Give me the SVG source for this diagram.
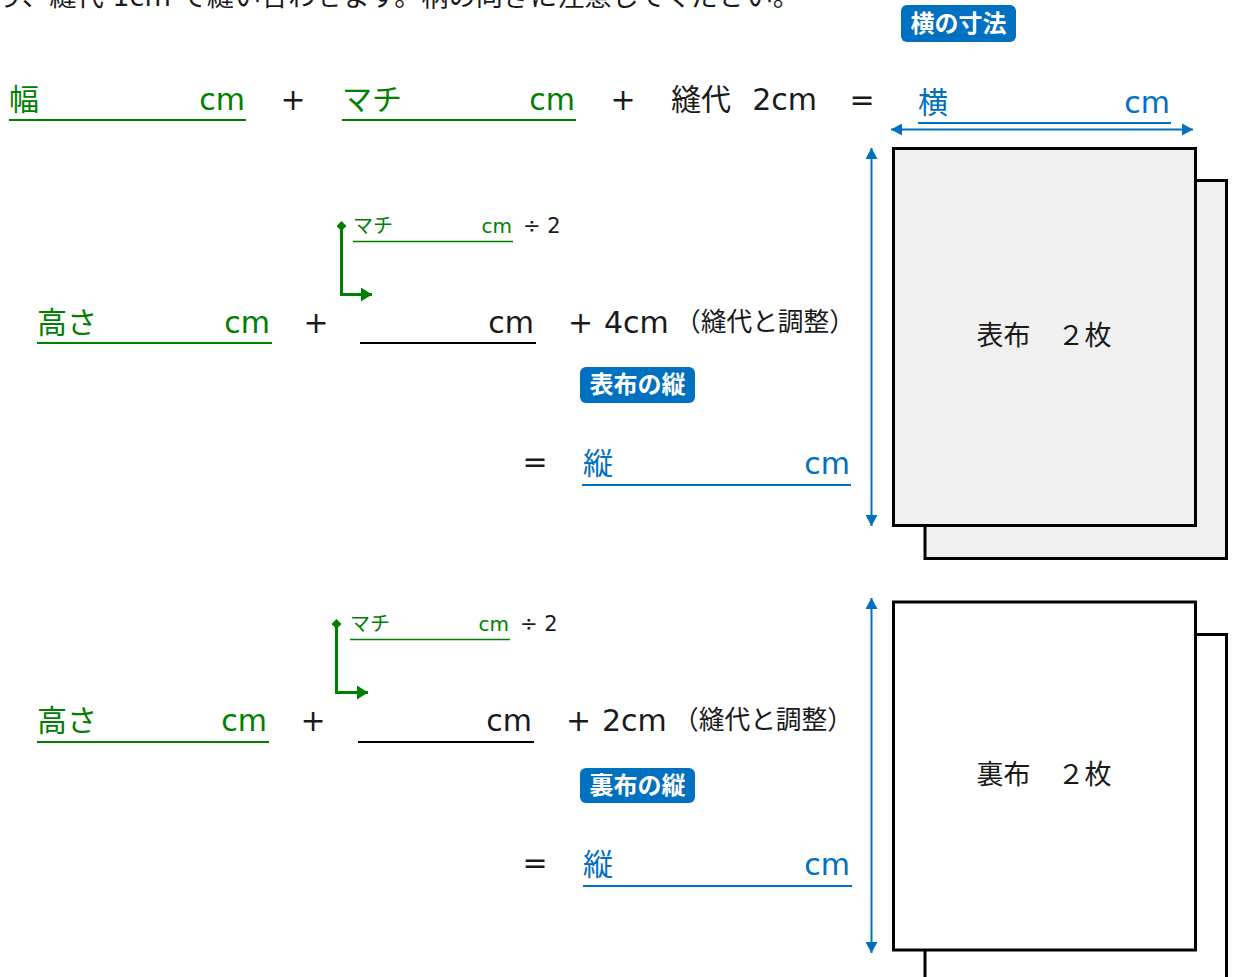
<svg xmlns="http://www.w3.org/2000/svg" width="1240" height="977" viewBox="0 0 1240 977">
<style>
text{font-family:"DejaVu Sans","Noto Sans CJK JP",sans-serif}
.g{fill:#008000}
.b{fill:#0070C0}
.k{fill:#1a1a1a}
.big{font-size:30px}
.sm{font-size:20px}
.ul-g{stroke:#008000;stroke-width:2}
.ul-gs{stroke:#008000;stroke-width:1.3}
.ul-b{stroke:#0070C0;stroke-width:2}
.ul-k{stroke:#000;stroke-width:2}
.badge{fill:#0070C0}
.bt{fill:#fff;font-size:24px;font-weight:bold;font-family:"Noto Sans CJK JP",sans-serif}
.box{stroke:#000;stroke-width:3}
.dim{stroke:#0070C0;stroke-width:2;fill:none}
.conn{stroke:#008000;stroke-width:3;fill:none}
</style>
<defs>
<marker id="ab" markerWidth="11" markerHeight="12" refX="11" refY="6" orient="auto-start-reverse" markerUnits="userSpaceOnUse"><path d="M0,0 L11,6 L0,12 Z" fill="#0070C0"/></marker>
<marker id="ag" markerWidth="11" markerHeight="14" refX="11" refY="7" orient="auto" markerUnits="userSpaceOnUse"><path d="M0,0 L11,7 L0,14 Z" fill="#008000"/></marker>
<marker id="dg" markerWidth="10" markerHeight="10" refX="5" refY="5" orient="auto" markerUnits="userSpaceOnUse"><path d="M5,0 L10,5 L5,10 L0,5 Z" fill="#008000"/></marker>
</defs>

<text x="-4" y="6" font-size="26" textLength="804" lengthAdjust="spacingAndGlyphs" class="k">り、縫代 1cm で縫い合わせます。柄の向きに注意してください。</text>

<g id="row1">
<text x="9" y="110" class="g big">幅</text>
<text x="245" y="110" class="g big" text-anchor="end">cm</text>
<line x1="9" y1="120" x2="246" y2="120" class="ul-g"/>
<text x="293" y="110" class="k big" text-anchor="middle">+</text>
<text x="342" y="110" class="g big">マチ</text>
<text x="575" y="110" class="g big" text-anchor="end">cm</text>
<line x1="342" y1="120" x2="576" y2="120" class="ul-g"/>
<text x="623" y="110" class="k big" text-anchor="middle">+</text>
<text x="671" y="110" class="k big">縫代</text>
<text x="817" y="110" class="k big" text-anchor="end">2cm</text>
<text x="862" y="110" class="k big" text-anchor="middle">=</text>
<text x="918" y="113" class="b big">横</text>
<text x="1170" y="113" class="b big" text-anchor="end">cm</text>
<line x1="918" y1="123" x2="1171" y2="123" class="ul-b"/>
</g>

<g id="badge-yoko">
<rect x="901" y="5" width="115" height="37" rx="6" class="badge"/>
<text x="958.5" y="32" class="bt" text-anchor="middle">横の寸法</text>
</g>

<g id="row2">
<text x="37" y="333" class="g big">高さ</text>
<text x="270" y="333" class="g big" text-anchor="end">cm</text>
<line x1="37" y1="343" x2="272" y2="343" class="ul-g"/>
<text x="316" y="333" class="k big" text-anchor="middle">+</text>
<text x="534" y="333" class="k big" text-anchor="end">cm</text>
<line x1="360" y1="343" x2="536" y2="343" class="ul-k"/>
<text x="568" y="333" class="k big">+</text>
<text x="604" y="333" class="k big">4cm</text>
<text x="675" y="331" font-size="26" textLength="180" lengthAdjust="spacingAndGlyphs" class="k">（縫代と調整）</text>
<text x="353" y="233" class="g sm">マチ</text>
<text x="512" y="233" class="g sm" text-anchor="end">cm</text>
<line x1="353" y1="241.5" x2="513" y2="241.5" class="ul-gs"/>
<text x="523" y="233" font-size="21" class="k">÷ 2</text>
<text x="535" y="472" class="k big" text-anchor="middle">=</text>
<text x="583" y="474" class="b big">縦</text>
<text x="850" y="474" class="b big" text-anchor="end">cm</text>
<line x1="582" y1="485" x2="851" y2="485" class="ul-b"/>
</g>

<g id="badge-omote">
<rect x="580" y="367" width="115" height="36" rx="6" class="badge"/>
<text x="637.5" y="393" class="bt" text-anchor="middle">表布の縦</text>
</g>

<g id="row3">
<text x="37" y="731" class="g big">高さ</text>
<text x="267" y="731" class="g big" text-anchor="end">cm</text>
<line x1="37" y1="742" x2="269" y2="742" class="ul-g"/>
<text x="313" y="731" class="k big" text-anchor="middle">+</text>
<text x="532" y="731" class="k big" text-anchor="end">cm</text>
<line x1="358" y1="742" x2="534" y2="742" class="ul-k"/>
<text x="566" y="731" class="k big">+</text>
<text x="602" y="731" class="k big">2cm</text>
<text x="673" y="729" font-size="26" textLength="180" lengthAdjust="spacingAndGlyphs" class="k">（縫代と調整）</text>
<text x="350" y="631" class="g sm">マチ</text>
<text x="509" y="631" class="g sm" text-anchor="end">cm</text>
<line x1="350" y1="639.5" x2="510" y2="639.5" class="ul-gs"/>
<text x="520" y="631" font-size="21" class="k">÷ 2</text>
<text x="535" y="873" class="k big" text-anchor="middle">=</text>
<text x="583" y="875" class="b big">縦</text>
<text x="850" y="875" class="b big" text-anchor="end">cm</text>
<line x1="583" y1="886" x2="852" y2="886" class="ul-b"/>
</g>

<g id="badge-ura">
<rect x="580" y="768" width="115" height="35" rx="6" class="badge"/>
<text x="637.5" y="794" class="bt" text-anchor="middle">裏布の縦</text>
</g>

<g id="omote-box">
<rect x="925" y="180.5" width="301.5" height="378" fill="#f0f0f0" class="box"/>
<rect x="893.5" y="148.5" width="302" height="377" fill="#f0f0f0" class="box"/>
<text x="1044" y="345" font-size="27" class="k" text-anchor="middle">表布　２枚</text>
</g>

<g id="ura-box">
<rect x="925" y="634.5" width="301.5" height="360" fill="#fff" class="box"/>
<rect x="893.5" y="602" width="302" height="348" fill="#fff" class="box"/>
<text x="1044" y="784" font-size="27" class="k" text-anchor="middle">裏布　２枚</text>
</g>

<g id="connectors">
<line x1="891" y1="129.5" x2="1193" y2="129.5" class="dim" marker-start="url(#ab)" marker-end="url(#ab)"/>
<line x1="871.5" y1="148" x2="871.5" y2="526" class="dim" marker-start="url(#ab)" marker-end="url(#ab)"/>
<line x1="871.5" y1="598" x2="871.5" y2="953" class="dim" marker-start="url(#ab)" marker-end="url(#ab)"/>
<path d="M341.5,226 V294.5 H372" class="conn" marker-start="url(#dg)" marker-end="url(#ag)"/>
<path d="M336.5,624 V692.5 H368" class="conn" marker-start="url(#dg)" marker-end="url(#ag)"/>
</g>
</svg>
